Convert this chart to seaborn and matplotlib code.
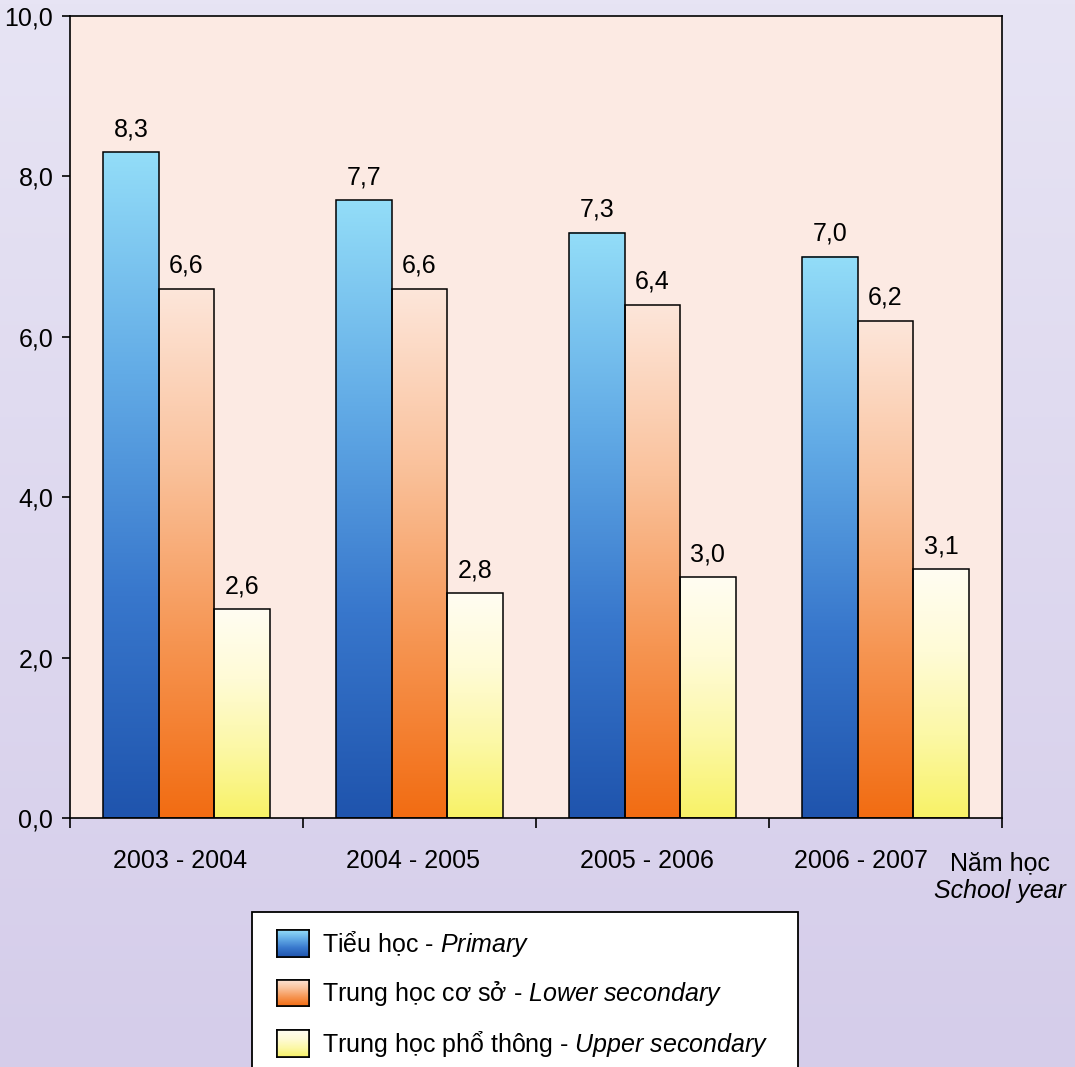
import numpy as np
import pandas as pd
import matplotlib
matplotlib.use("Agg")
import matplotlib.pyplot as plt
import seaborn as sns
from matplotlib.colors import LinearSegmentedColormap
from matplotlib.patches import Rectangle
from matplotlib.ticker import FuncFormatter, FixedLocator

# ---- data -----------------------------------------------------------------
school_years = ["2003 - 2004", "2004 - 2005", "2005 - 2006", "2006 - 2007"]
primary = [8.3, 7.7, 7.3, 7.0]
lower_secondary = [6.6, 6.6, 6.4, 6.2]
upper_secondary = [2.6, 2.8, 3.0, 3.1]

level_keys = ["primary", "lower", "upper"]
level_labels = [
    "Tiểu học - $\\it{Primary}$",
    "Trung học cơ sở - $\\it{Lower\\ secondary}$",
    "Trung học phổ thông - $\\it{Upper\\ secondary}$",
]
y_ticks = [0, 2, 4, 6, 8, 10]

# colour ramps, bottom -> top of each bar
ramps = {
    "primary": ["#1f54ad", "#3877cc", "#62abe6", "#93ddf8"],
    "lower": ["#f26c12", "#f69552", "#fac29c", "#fde6da"],
    "upper": ["#f8f266", "#fcf8a6", "#fffbd6", "#fffdf2"],
}
mid_colors = ["#3877cc", "#f69552", "#fcf8a6"]

df = pd.DataFrame({
    "year": school_years * 3,
    "level": ["primary"] * 4 + ["lower"] * 4 + ["upper"] * 4,
    "value": primary + lower_secondary + upper_secondary,
})

# ---- style ----------------------------------------------------------------
sns.set_style("white")
plt.rcParams["font.family"] = ["Liberation Sans", "DejaVu Sans"]
plt.rcParams["mathtext.fontset"] = "custom"
plt.rcParams["mathtext.rm"] = "Liberation Sans"
plt.rcParams["mathtext.it"] = "Liberation Sans:italic"
for k in ["text.color", "axes.labelcolor", "xtick.color", "ytick.color"]:
    plt.rcParams[k] = "black"
FS = 18

W, H = 1075, 1067
fig = plt.figure(figsize=(W / 100, H / 100), dpi=100)

# lavender page background
bg = fig.add_axes([0, 0, 1, 1], zorder=-5)
top_c = np.array([231, 228, 244]) / 255
bot_c = np.array([213, 205, 234]) / 255
t = np.linspace(0, 1, 256)[:, None, None]
bg.imshow(top_c * (1 - t) + bot_c * t, aspect="auto", extent=[0, 1, 0, 1],
          origin="upper")
bg.set_axis_off()

# white legend panel, running off the bottom edge
bg.add_patch(Rectangle((252 / W, -0.05), (798 - 252) / W, 0.05 + 1 - 912 / H,
                       transform=bg.transAxes, facecolor="white",
                       edgecolor="black", linewidth=1.3, zorder=3))

ax = fig.add_axes([70 / W, 1 - 818 / H, 932 / W, 802 / H])
ax.set_facecolor("#fceae3")

sns.barplot(data=df, x="year", y="value", hue="level", order=school_years,
            hue_order=level_keys, palette=mid_colors, saturation=1,
            width=0.713, edgecolor="black", linewidth=1.1, legend=False,
            ax=ax)

# vertical gradient fill for every bar
grad = np.linspace(0, 1, 256)[:, None]
for key, container in zip(level_keys, ax.containers):
    cmap = LinearSegmentedColormap.from_list(key, ramps[key])
    for bar in container:
        x0, w, h = bar.get_x(), bar.get_width(), bar.get_height()
        ax.imshow(grad, cmap=cmap, aspect="auto", origin="lower",
                  extent=[x0, x0 + w, 0, h], zorder=0.9, interpolation="bilinear")
        bar.set_facecolor("none")
        bar.set_zorder(1.5)
    vals = [b.get_height() for b in container]
    ax.bar_label(container, labels=[f"{v:.1f}".replace(".", ",") for v in vals],
                 padding=8, fontsize=FS, color="black")

ax.set_xlim(-0.5, 3.5)
ax.set_ylim(0, 10)

# axes frame and ticks
for s in ax.spines.values():
    s.set_visible(True)
    s.set_color("black")
    s.set_linewidth(1.2)

ax.yaxis.set_major_locator(FixedLocator(y_ticks))
ax.yaxis.set_major_formatter(FuncFormatter(lambda v, p: f"{v:.1f}".replace(".", ",")))
ax.tick_params(axis="y", direction="out", length=6, width=1.2, pad=6,
               labelsize=FS, left=True, colors="black")

label_pos = [0 - 0.026, 1 - 0.026, 2 - 0.026, 3 - 0.107]
ax.set_xticks(label_pos)
ax.set_xticklabels(school_years)
ax.tick_params(axis="x", which="major", length=0, pad=22, labelsize=FS,
               colors="black")
ax.set_xticks([-0.5, 0.5, 1.5, 2.5, 3.5], minor=True)
ax.tick_params(axis="x", which="minor", direction="out", length=7, width=1.2,
               bottom=True, colors="black")
ax.set_xlabel("")
ax.set_ylabel("")

fig.text(1000 / W, 1 - 870 / H, "Năm học", ha="center", va="baseline", fontsize=FS)
fig.text(1000 / W, 1 - 898 / H, "School year", ha="center", va="baseline",
         fontsize=FS, style="italic")

# legend entries (drawn on the white panel)
handles = [Rectangle((0, 0), 1, 1, facecolor=c, edgecolor="black", linewidth=1.1)
           for c in mid_colors]
leg = ax.legend(handles, level_labels, loc="upper left",
                bbox_to_anchor=(277 / W, 1 - 929 / H),
                bbox_transform=fig.transFigure, fontsize=FS, frameon=False,
                handlelength=1.28, handleheight=1.25,
                handletextpad=0.52, labelspacing=0.82, borderpad=0,
                borderaxespad=0)
for txt in leg.get_texts():
    txt.set_color("black")

fig.canvas.draw()
inv = fig.transFigure.inverted()
for key, hdl in zip(level_keys, leg.legend_handles):
    bb = hdl.get_window_extent(fig.canvas.get_renderer())
    (fx0, fy0), (fx1, fy1) = inv.transform([[bb.x0, bb.y0], [bb.x1, bb.y1]])
    hax = fig.add_axes([fx0, fy0, fx1 - fx0, fy1 - fy0], zorder=5)
    cmap = LinearSegmentedColormap.from_list(key + "_leg", ramps[key])
    hax.imshow(grad, cmap=cmap, aspect="auto", origin="lower",
               extent=[0, 1, 0, 1], interpolation="bilinear")
    hax.set_xticks([])
    hax.set_yticks([])
    for s in hax.spines.values():
        s.set_visible(True)
        s.set_color("black")
        s.set_linewidth(1.2)

fig.savefig("out.png", dpi=100)
